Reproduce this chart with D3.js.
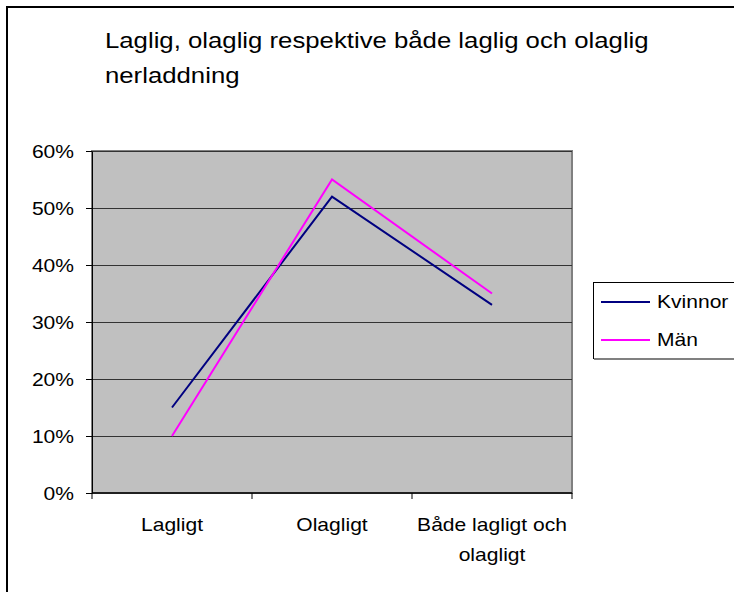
<!DOCTYPE html>
<html>
<head>
<meta charset="utf-8">
<script src="https://cdn.jsdelivr.net/npm/d3@7"></script>
<style>
  html, body { margin: 0; padding: 0; background: #fff; }
  svg { display: block; font-family: "Liberation Sans", Arial, sans-serif; }
</style>
</head>
<body>
<svg id="chart" width="734" height="592"></svg>
<script>
// ---- data ----
const titleLines = ["Laglig, olaglig respektive både laglig och olaglig", "nerladdning"];
const categories = ["Lagligt", "Olagligt", "Både lagligt och olagligt"];
const categoryLabelLines = [["Lagligt"], ["Olagligt"], ["Både lagligt och", "olagligt"]];
const seriesNames = ["Kvinnor", "Män"];
const kvinnor = [0.15, 0.52, 0.33];
const man = [0.10, 0.55, 0.35];
const yTicks = [0, 0.1, 0.2, 0.3, 0.4, 0.5, 0.6];
const seriesColors = ["#000080", "#FF00FF"];

// ---- layout ----
const SX = 1.17; // horizontal text stretch of the original rendering
const plot = { left: 92, right: 572, top: 151, bottom: 493 };
const svg = d3.select("#chart");

// outer chart frame
svg.append("rect").attr("x", 7).attr("y", 7).attr("width", 800).attr("height", 700)
  .attr("fill", "#fff").attr("stroke", "#000").attr("stroke-width", 2);

// title
const title = svg.append("g").attr("transform", `translate(105,0)`);
titleLines.forEach((t, i) => {
  title.append("text")
    .attr("transform", `translate(0,${48 + i * 35}) scale(${SX},1)`)
    .attr("font-size", 22).attr("fill", "#000").text(t);
});

// scales
const x = d3.scaleBand().domain(categories).range([plot.left, plot.right]);
const y = d3.scaleLinear().domain([0, 0.6]).range([plot.bottom, plot.top]);

// plot area
svg.append("rect")
  .attr("x", plot.left).attr("y", plot.top)
  .attr("width", plot.right - plot.left).attr("height", plot.bottom - plot.top)
  .attr("fill", "#C0C0C0").attr("stroke", "#808080").attr("stroke-width", 2);

// gridlines
svg.append("g").selectAll("line").data(yTicks.filter(d => d > 0)).join("line")
  .attr("x1", plot.left).attr("x2", plot.right)
  .attr("y1", d => Math.round(y(d)) + 0.5).attr("y2", d => Math.round(y(d)) + 0.5)
  .attr("stroke", "#333").attr("stroke-width", 1);

// y axis
const yAxis = svg.append("g").attr("transform", `translate(${plot.left},0)`)
  .call(d3.axisLeft(y).tickValues(yTicks).tickFormat(d3.format(".0%")).tickSize(6).tickSizeOuter(0));
yAxis.select(".domain").attr("stroke", "#000");
yAxis.selectAll(".tick line").attr("stroke", "#000");
yAxis.selectAll(".tick text")
  .attr("x", -18 / SX).attr("dy", "0.35em")
  .attr("transform", `scale(${SX},1)`)
  .attr("font-size", 18).attr("fill", "#000")
  .attr("font-family", "'Liberation Sans', Arial, sans-serif");

// x axis line + ticks at band boundaries
const xg = svg.append("g");
xg.append("line").attr("x1", plot.left).attr("x2", plot.right)
  .attr("y1", plot.bottom).attr("y2", plot.bottom).attr("stroke", "#000").attr("stroke-width", 1.5);
const boundaries = categories.map(c => x(c)).concat([x.range()[1]]);
xg.selectAll("line.tk").data(boundaries).join("line").attr("class", "tk")
  .attr("x1", d => d).attr("x2", d => d)
  .attr("y1", plot.bottom).attr("y2", plot.bottom + 6).attr("stroke", "#000");

// x labels
categories.forEach((c, i) => {
  const cx = x(c) + x.bandwidth() / 2;
  categoryLabelLines[i].forEach((ln, j) => {
    xg.append("text")
      .attr("transform", `translate(${cx},${531 + j * 30}) scale(${SX},1)`)
      .attr("text-anchor", "middle").attr("font-size", 18).attr("fill", "#000").text(ln);
  });
});

// lines
const line = d3.line().x((d, i) => x(categories[i]) + x.bandwidth() / 2).y(d => y(d));
[kvinnor, man].forEach((vals, k) => {
  svg.append("path").datum(vals).attr("d", line)
    .attr("fill", "none").attr("stroke", seriesColors[k]).attr("stroke-width", 2);
});

// legend
const lg = svg.append("g");
lg.append("rect").attr("x", 593.5).attr("y", 282.5).attr("width", 200).attr("height", 76)
  .attr("fill", "#fff").attr("stroke", "#000").attr("stroke-width", 1);
lg.append("line").attr("x1", 594).attr("x2", 800).attr("y1", 359).attr("y2", 359)
  .attr("stroke", "#808080").attr("stroke-width", 2);
seriesNames.forEach((s, i) => {
  const yy = 302 + i * 38;
  lg.append("line").attr("x1", 601).attr("x2", 650).attr("y1", yy).attr("y2", yy)
    .attr("stroke", seriesColors[i]).attr("stroke-width", 2);
  lg.append("text")
    .attr("transform", `translate(657,${yy + 6}) scale(${SX},1)`)
    .attr("font-size", 18).attr("fill", "#000").text(s);
});
</script>
</body>
</html>
